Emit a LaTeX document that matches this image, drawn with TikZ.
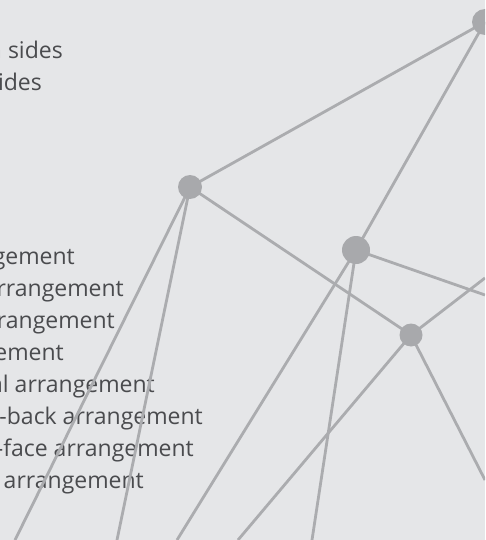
\documentclass[tikz,border=0pt]{standalone}
\usepackage{fontspec}
\setmainfont{Open Sans}
\definecolor{bg}{HTML}{E5E6E8}
\definecolor{edgec}{HTML}{ABACAF}
\definecolor{dotc}{HTML}{A8A9AC}
\definecolor{txt}{HTML}{4A4B4E}
\begin{document}
\begin{tikzpicture}[x=1pt,y=-1pt,
  dot/.style={circle,fill=dotc,inner sep=0pt,minimum size=#1},
  link/.style={draw=edgec,line width=2.8pt},
  lbl/.style={anchor=base east,inner sep=0pt,text=txt,font=\fontsize{23}{23}\selectfont}]
\useasboundingbox (0,0) rectangle (485,540);
\clip (0,0) rectangle (485,540);
\fill[bg] (0,0) rectangle (485,540);
% labels
\node[lbl] (t1) at (63,59) {n sides};
\node[lbl] (t2) at (42,91) {ides};
\node[lbl] (t3) at (75,264) {gement};
\node[lbl] (t4) at (124,296) {rrangement};
\node[lbl] (t5) at (115,328) {rangement};
\node[lbl] (t6) at (64,360) {ement};
\node[lbl] (t7) at (155,392) {al arrangement};
\node[lbl] (t8) at (203,424) {-back arrangement};
\node[lbl] (t9) at (194,456) {-face arrangement};
\node[lbl] (t10) at (144,488) {arrangement};
% points
\coordinate (A) at (485,22);
\coordinate (B) at (190,187);
\coordinate (C) at (356,250);
\coordinate (D) at (411,335);
\coordinate (e1) at (485,295);
\coordinate (e2) at (485,278);
\coordinate (e3) at (15,540);
\coordinate (e4) at (117,540);
\coordinate (e5) at (177,540);
\coordinate (e6) at (238,540);
\coordinate (e7) at (312,540);
\coordinate (e8) at (485,480);
% connectors
\draw[link] (A) -- (B);
\draw[link] (A) -- (C);
\draw[link] (B) -- (D);
\draw[link] (C) -- (e1);
\draw[link] (D) -- (e2);
\draw[link] (B) -- (e3);
\draw[link] (B) -- (e4);
\draw[link] (C) -- (e5);
\draw[link] (D) -- (e6);
\draw[link] (C) -- (e7);
\draw[link] (D) -- (e8);
% nodes
\node[dot=26pt] (nA) at (A) {};
\node[dot=24pt] (nB) at (B) {};
\node[dot=28pt] (nC) at (C) {};
\node[dot=23pt] (nD) at (D) {};
\end{tikzpicture}
\end{document}
